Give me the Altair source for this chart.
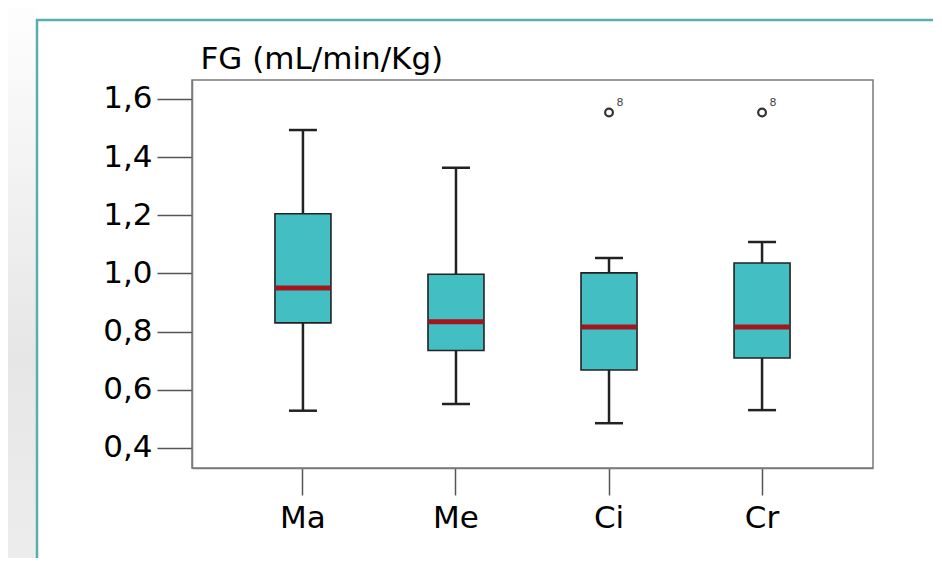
import altair as alt
import pandas as pd

# ---- data ----
groups = ["Ma", "Me", "Ci", "Cr"]
whisker_low = [0.528, 0.551, 0.485, 0.530]
q1 = [0.830, 0.735, 0.668, 0.709]
median = [0.950, 0.834, 0.816, 0.816]
q3 = [1.205, 0.997, 1.002, 1.036]
whisker_high = [1.493, 1.363, 1.053, 1.108]

outlier_groups = ["Ci", "Cr"]
outlier_values = [1.553, 1.553]
outlier_labels = ["8", "8"]

y_ticks = [0.4, 0.6, 0.8, 1.0, 1.2, 1.4, 1.6]
y_title = "FG (mL/min/Kg)"

box = pd.DataFrame({
    "group": groups, "lo": whisker_low, "q1": q1,
    "med": median, "q3": q3, "hi": whisker_high,
})
out = pd.DataFrame({"group": outlier_groups, "v": outlier_values, "lab": outlier_labels})

FONT = "DejaVu Sans"
TEAL = "#43bfc3"
RED = "#a3161d"
DARK = "#222222"

x_scale = alt.Scale(domain=groups, paddingInner=0, paddingOuter=0.225)
y_scale = alt.Scale(domain=[0.331, 1.665], nice=False, zero=False)

x_enc = alt.X("group:N", scale=x_scale, sort=groups,
              axis=alt.Axis(title=None, labelAngle=0, tickSize=27, labelPadding=8,
                            labelFontSize=31, labelFont=FONT, labelColor="#000",
                            tickColor="#555", tickWidth=1.5, domainColor="#7a7a7a",
                            domainWidth=1.5))
y_axis = alt.Axis(values=y_ticks, grid=False, tickSize=35, tickColor="#555", tickWidth=1.5,
                  labelExpr="replace(format(datum.value, '.1f'), '.', ',')",
                  labelFontSize=31, labelFont=FONT, labelColor="#000", labelPadding=5,
                  domainColor="#7a7a7a", domainWidth=1.5,
                  title=y_title, titleAngle=0, titleAlign="left", titleBaseline="alphabetic",
                  titleX=8, titleY=-12, titleFont=FONT, titleFontSize=31,
                  titleFontWeight="normal", titleColor="#000")

base = alt.Chart(box)

whisk_low = base.mark_rule(color=DARK, strokeWidth=2.5).encode(
    x=x_enc, y=alt.Y("lo:Q", scale=y_scale, axis=y_axis), y2="q1:Q")
whisk_high = base.mark_rule(color=DARK, strokeWidth=2.5).encode(
    x=x_enc, y=alt.Y("q3:Q", scale=y_scale), y2="hi:Q")
cap_low = base.mark_tick(color=DARK, size=28, thickness=2.5, opacity=1).encode(
    x=x_enc, y=alt.Y("lo:Q", scale=y_scale))
cap_high = base.mark_tick(color=DARK, size=28, thickness=2.5, opacity=1).encode(
    x=x_enc, y=alt.Y("hi:Q", scale=y_scale))
boxes = base.mark_bar(size=56, color=TEAL, stroke=DARK, strokeWidth=1.6).encode(
    x=x_enc, y=alt.Y("q1:Q", scale=y_scale), y2="q3:Q")
meds = base.mark_tick(color=RED, size=55, thickness=5, opacity=1).encode(
    x=x_enc, y=alt.Y("med:Q", scale=y_scale))

pts = alt.Chart(out).mark_point(shape="circle", filled=False, color="#333",
                                strokeWidth=2.2, size=60, opacity=1).encode(
    x=x_enc, y=alt.Y("v:Q", scale=y_scale))
labs = alt.Chart(out).mark_text(font=FONT, fontSize=11, color="#444", dx=11, dy=-10).encode(
    x=x_enc, y=alt.Y("v:Q", scale=y_scale), text="lab:N")

deco = pd.DataFrame({"a": [0]})
left_strip = alt.Chart(deco).mark_rect(
    fill=alt.Gradient(gradient="linear", x1=0, y1=0, x2=0, y2=1,
                      stops=[alt.GradientStop(color="#ffffff", offset=0),
                             alt.GradientStop(color="#e6e6e6", offset=0.6),
                             alt.GradientStop(color="#eeeeee", offset=1)])
).encode(x=alt.value(-200), x2=alt.value(-156), y=alt.value(-90), y2=alt.value(520))
frame = alt.Chart(deco).mark_rect(fill=None, fillOpacity=0, stroke="#5aaeae", strokeWidth=2.5).encode(
    x=alt.value(-155), x2=alt.value(800), y=alt.value(-60), y2=alt.value(560))

chart = alt.layer(
    left_strip, frame, whisk_low, whisk_high, cap_low, cap_high, boxes, meds, pts, labs
).properties(
    width=681, height=388,
    padding={"left": 184, "top": 72, "right": 60, "bottom": 90},
    autosize="none", background="white",
).configure_view(stroke="#7a7a7a", strokeWidth=1.5)

chart.save("out.html", embed_options={"renderer": "svg", "actions": False})
